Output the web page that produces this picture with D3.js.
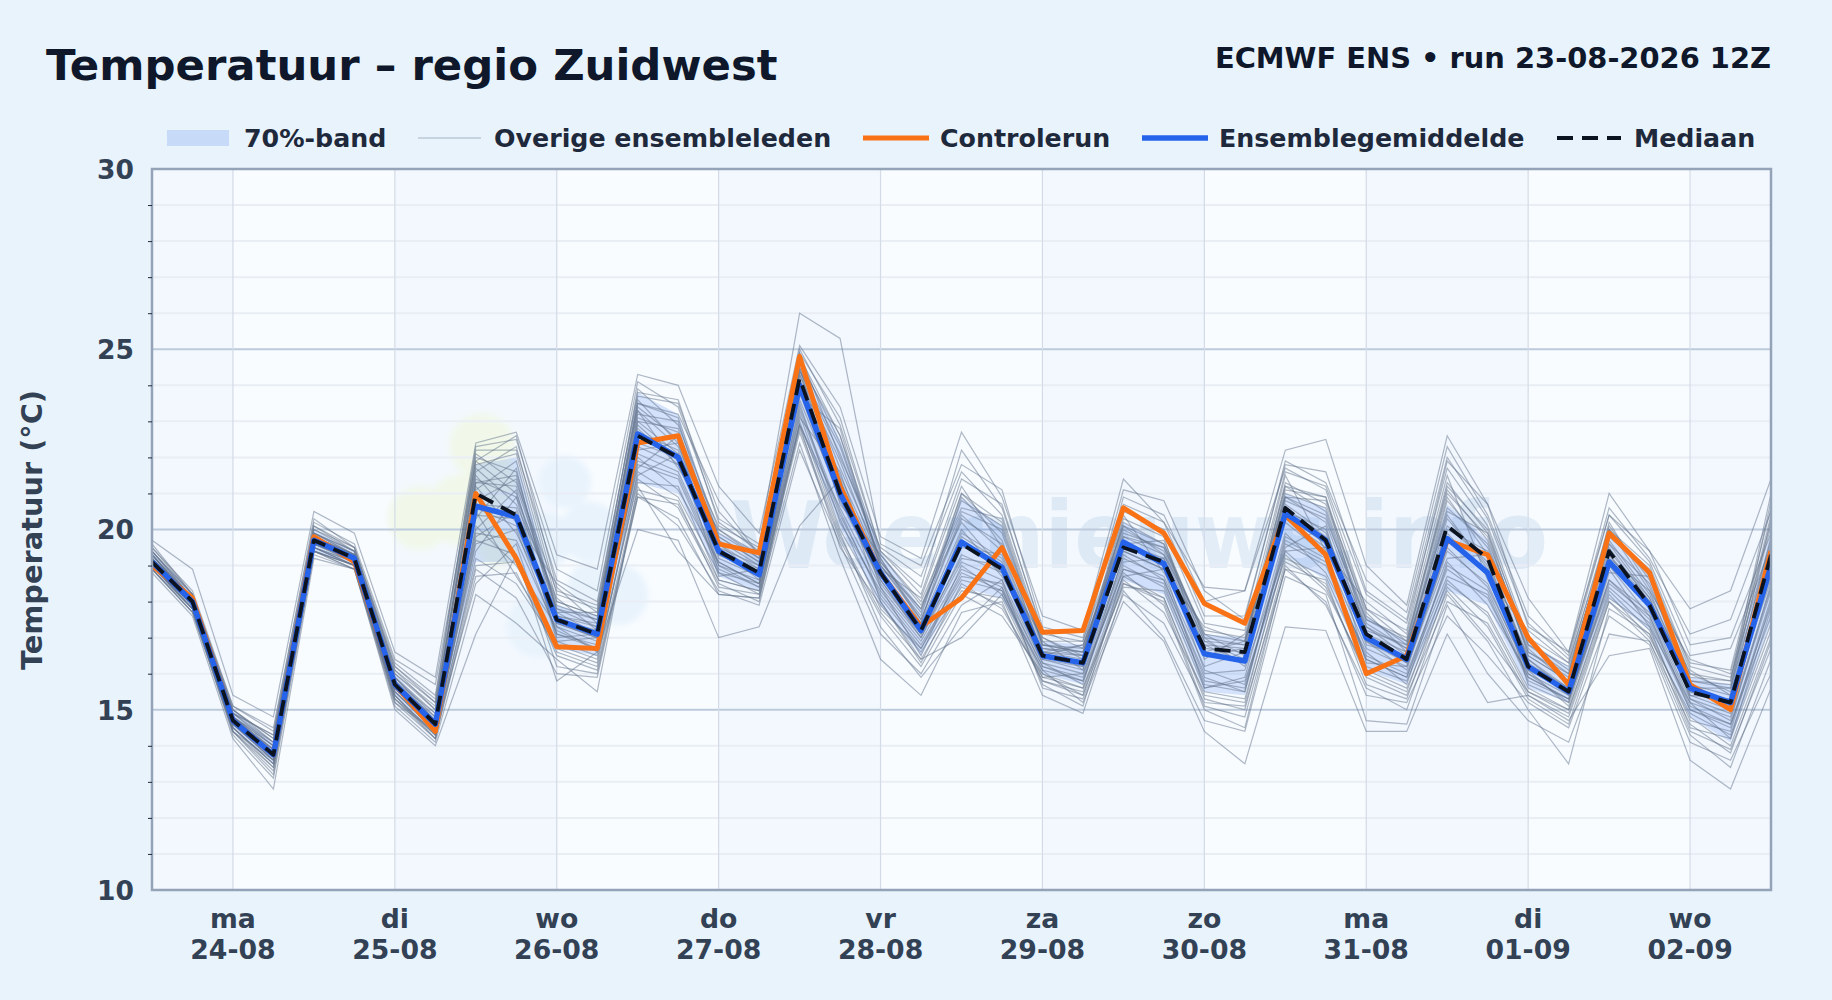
<!DOCTYPE html>
<meta charset="utf-8">
<script src="https://d3js.org/d3.v7.min.js"></script>

<style>
html, body { margin: 0; padding: 0; background: #e8f3fc; }
svg { display: block; font-family: "DejaVu Sans", sans-serif; font-weight: 700; }
.y-axis text { font-family: "DejaVu Sans", sans-serif; fill: #334155; font-size: 26.5px; font-weight: 700; }
.x-label { fill: #334155; font-size: 26.7px; font-weight: 700; }
.y-axis path { display: none; }
.y-axis line { stroke: #1e293b; }
.legend text { fill: #1e293b; font-size: 25.3px; }
</style>

<div id="chart"></div>

<script>
// Step index -> 6-hourly from 23-08 12Z, 41 steps
var dayNames = ["ma", "di", "wo", "do", "vr", "za", "zo", "ma", "di", "wo"];
var dayDates = ["24-08", "25-08", "26-08", "27-08", "28-08", "29-08", "30-08", "31-08", "01-09", "02-09"];
var dayStep = [2, 6, 10, 14, 18, 22, 26, 30, 34, 38];
var shadedDays = [[0, 2], [6, 10], [14, 18], [22, 26], [30, 34], [38, 40]];
var majorTicks = [10, 15, 20, 25, 30];
var minorTicks = [11, 12, 13, 14, 16, 17, 18, 19, 21, 22, 23, 24, 26, 27, 28, 29];

var median = [19.1,18.0,14.7,13.75,19.7,19.2,15.7,14.6,21.0,20.4,17.5,17.1,22.6,22.0,19.4,18.8,24.2,21.0,18.8,17.2,19.6,18.9,16.5,16.3,19.5,19.1,16.7,16.6,20.6,19.7,17.1,16.4,20.1,19.2,16.2,15.5,19.4,17.9,15.5,15.2,19.3];
var mean = [19.1,18.0,14.7,13.75,19.7,19.2,15.7,14.6,20.65,20.35,17.5,17.1,22.65,22.0,19.4,18.75,24.0,21.0,18.8,17.2,19.65,18.95,16.5,16.3,19.65,19.05,16.55,16.35,20.45,19.7,17.0,16.4,19.75,18.8,16.2,15.5,19.1,17.9,15.6,15.2,19.0];
var control = [19.0,18.1,14.7,13.75,19.8,19.1,15.7,14.4,21.0,19.2,16.75,16.7,22.4,22.6,19.6,19.35,24.8,21.2,18.8,17.3,18.1,19.5,17.15,17.2,20.6,19.9,17.95,17.4,20.4,19.3,16.0,16.5,19.7,19.3,17.0,15.7,19.9,18.8,15.7,15.0,19.4];
var bandLow = [18.9,17.8,14.5,13.5,19.4,19.0,15.4,14.3,19.1,19.1,16.7,16.5,21.3,21.0,18.7,18.3,22.9,20.1,17.9,16.5,18.4,18.1,16.0,15.7,18.6,18.2,15.5,15.4,19.3,18.6,16.1,15.7,18.3,17.9,15.6,15.2,18.1,17.2,14.8,14.1,17.5];
var bandHigh = [19.4,18.2,15.0,14.1,20.0,19.4,16.0,14.8,21.8,22.0,17.9,17.6,23.8,23.2,19.9,19.4,24.7,22.5,19.4,17.8,20.9,20.1,16.9,16.8,20.2,19.6,17.1,17.0,21.0,20.6,17.6,16.9,20.7,19.7,16.9,16.2,19.8,18.8,15.9,15.7,20.0];

// Outer lines are read off the picture; inside the bundle single lines can't be told apart, so those are estimates
var m01 = [19.7,18.9,15.4,14.8,20.5,19.9,16.6,15.9,22.4,22.7,19.3,18.9,24.3,24.0,21.2,19.9,25.1,23.4,19.8,19.2,22.7,20.9,17.6,17.2,21.4,20.2,18.4,18.3,22.2,22.5,19.0,17.9,22.6,20.7,18.1,16.6,21.0,19.4,17.8,18.3,21.4];
var m02 = [18.8,17.6,14.2,12.8,19.2,18.9,15.0,14.0,17.1,19.3,15.8,16.6,20.0,19.7,17.0,17.3,20.1,21.4,18.0,16.4,17.0,18.2,16.1,15.2,18.0,16.9,14.4,13.5,17.3,17.2,14.4,14.4,17.1,15.2,15.4,14.7,16.5,16.7,13.6,12.8,15.6];
var m03 = [19.3,18.0,14.9,14.3,20.1,19.5,16.2,15.3,22.3,22.5,18.9,18.3,24.1,23.4,20.3,19.6,26.0,25.3,19.6,19.0,21.8,21.1,17.3,17.0,21.1,20.8,18.3,17.5,21.9,21.3,18.6,17.7,22.3,20.4,17.6,16.5,20.6,19.2,17.1,17.5,20.5];
var m04 = [19.0,17.8,14.3,13.1,19.3,18.9,15.1,14.1,18.2,17.4,16.4,15.5,21.2,19.4,18.2,18.1,22.4,19.2,16.4,15.4,17.7,18.0,15.4,14.9,18.3,17.0,14.7,14.4,18.7,18.2,14.7,14.6,17.9,16.0,14.7,14.1,17.1,16.9,14.3,13.4,16.4];
var m05 = [19.5,18.3,15.1,14.5,20.2,19.6,16.4,15.7,21.9,22.6,18.4,17.4,23.5,23.2,20.8,19.3,24.9,23.1,19.4,18.4,22.2,20.6,17.2,16.7,20.9,20.4,18.0,18.3,21.7,21.1,17.8,17.2,21.9,20.7,17.3,16.6,20.4,19.4,16.8,17.0,19.9];
var m06 = [18.9,17.7,14.4,13.2,19.4,18.9,15.2,14.2,18.9,18.1,16.0,15.9,20.9,20.3,18.2,18.1,23.0,19.9,17.3,15.9,17.3,18.4,15.7,15.1,18.8,17.9,15.0,14.5,19.0,17.9,15.6,15.0,18.2,16.9,15.0,13.5,17.8,17.1,14.8,14.0,17.0];
var m07 = [19.2,18.1,14.8,13.9,19.8,19.3,15.9,14.7,21.3,21.2,17.9,17.5,23.3,22.3,19.7,19.0,24.4,22.3,19.1,17.7,20.8,20.1,16.8,16.6,20.0,19.4,16.9,16.8,21.2,20.5,17.4,16.7,20.6,19.6,16.6,15.9,19.6,18.5,15.8,15.7,20.1];
var m08 = [19.0,17.9,14.6,13.6,19.5,19.1,15.5,14.4,19.6,20.0,17.1,16.8,21.8,21.4,18.9,18.4,23.3,20.4,18.2,16.8,18.7,18.5,16.2,15.8,19.0,18.4,15.8,15.6,19.6,19.0,16.4,15.9,18.7,18.2,15.8,15.3,18.4,17.4,15.0,14.5,18.1];
var m09 = [19.4,18.2,15.0,14.2,20.0,19.4,16.1,15.0,22.0,21.6,17.7,17.7,23.9,22.9,20.0,19.2,23.7,22.8,18.9,18.1,21.2,19.5,16.9,16.1,20.3,19.8,16.4,17.1,20.9,20.8,17.8,16.9,21.3,19.9,16.9,16.1,19.9,18.9,16.1,15.4,18.7];
var m10 = [18.9,17.8,14.5,13.5,19.5,19.0,15.3,14.3,20.1,19.0,17.3,16.6,22.0,21.1,19.1,18.5,22.9,20.6,18.4,16.5,19.0,18.2,15.9,16.0,18.7,18.9,15.6,15.9,19.9,18.8,16.6,15.7,19.1,17.9,16.0,15.2,18.9,17.3,15.2,14.2,17.8];
var m11 = [19.3,18.0,14.8,14.0,19.9,19.4,15.8,14.9,21.7,20.7,18.1,17.2,23.0,22.8,19.5,18.6,24.5,21.7,19.2,17.5,20.3,19.6,16.6,16.8,19.8,19.5,17.1,16.5,20.9,20.2,17.2,16.8,20.4,18.9,16.5,15.8,19.2,18.3,15.6,15.6,19.6];
var m12 = [19.1,17.9,14.6,13.7,19.6,19.2,15.6,14.5,19.4,20.9,16.9,17.0,21.5,22.1,18.7,18.9,23.6,20.9,18.6,17.0,19.3,18.8,16.3,15.7,19.3,18.6,16.0,16.1,19.4,19.5,16.9,16.1,19.5,18.4,16.1,15.1,18.6,17.7,15.3,14.9,18.4];
var m13 = [19.6,18.2,15.1,14.4,20.3,19.5,16.3,15.4,22.2,22.2,18.6,18.0,23.7,23.5,20.5,19.3,24.9,22.0,19.5,18.7,21.6,20.4,17.0,16.5,20.5,20.0,17.4,17.2,21.6,21.2,18.2,17.4,21.7,20.1,17.0,16.3,20.1,18.6,16.3,16.1,20.6];
var m14 = [19.0,17.9,14.4,13.3,19.4,19.0,15.4,14.2,18.7,18.8,16.6,16.2,21.1,20.8,18.4,18.2,22.7,19.7,17.6,16.2,18.2,17.6,16.0,15.4,18.5,18.1,15.3,15.0,19.1,18.5,15.9,15.4,18.0,17.4,15.4,14.8,18.0,16.9,14.6,13.8,16.9];
var m15 = [19.2,18.0,14.7,13.8,19.7,19.2,15.7,14.7,20.8,21.4,17.6,17.3,22.8,21.8,19.6,18.9,24.1,21.4,18.7,17.4,20.0,18.7,16.7,16.5,19.6,19.2,16.6,16.9,20.7,19.9,17.3,16.5,20.0,19.4,16.3,15.6,19.5,18.0,15.7,15.0,18.9];
var m16 = [19.4,18.1,15.0,14.1,19.9,19.3,16.0,15.1,21.6,22.3,18.2,17.8,23.4,22.5,20.1,19.5,24.6,22.6,19.3,18.0,20.6,20.3,16.9,16.9,20.1,19.3,17.2,17.0,21.0,20.6,17.5,17.0,21.1,19.7,16.8,16.2,19.8,18.8,15.9,15.8,21.0];
var m17 = [18.9,17.7,14.5,13.4,19.4,18.9,15.3,14.2,19.2,18.5,16.8,16.4,21.4,20.6,18.5,18.0,22.9,19.5,17.9,16.6,18.4,17.9,15.8,15.5,18.6,17.7,15.5,15.3,19.3,18.3,16.1,15.6,18.3,17.0,15.5,15.0,18.2,17.0,14.9,14.3,17.4];
var m18 = [19.1,18.0,14.7,13.9,19.7,19.1,15.6,14.6,20.4,20.3,17.4,17.0,22.4,22.0,19.2,18.7,23.9,21.0,18.5,17.1,19.8,19.1,16.4,16.2,19.4,18.9,16.8,16.3,20.4,19.6,17.0,16.3,19.9,18.7,16.2,15.4,19.3,17.8,15.5,15.1,19.2];
var m19 = [19.3,18.1,14.9,14.0,19.8,19.3,15.9,14.8,21.4,20.9,18.0,17.6,23.1,22.7,19.8,19.1,24.3,21.9,19.0,17.6,21.0,19.9,16.7,16.6,20.2,19.6,17.0,16.8,21.3,20.7,17.7,16.6,20.8,19.5,16.7,15.7,20.2,18.4,16.0,15.5,20.3];
var m20 = [19.0,17.8,14.6,13.6,19.6,19.1,15.5,14.5,19.9,19.7,17.2,16.7,21.9,21.5,19.0,18.4,23.5,20.2,18.3,16.9,18.9,18.4,16.2,15.9,18.9,18.5,15.7,15.5,19.7,19.1,16.5,16.0,18.9,18.1,15.9,15.3,18.6,17.5,15.1,14.6,17.6];
var m21 = [19.2,18.0,14.8,13.8,19.7,19.2,15.8,14.7,21.2,19.9,17.6,17.4,22.9,21.9,19.3,18.8,24.0,21.2,18.8,17.3,19.5,19.3,16.6,16.4,19.7,19.0,16.5,16.7,20.5,20.0,16.8,16.5,20.3,19.0,16.4,15.5,19.4,18.1,15.4,15.3,18.6];
var m22 = [19.4,18.1,14.9,14.1,19.9,19.4,16.0,15.0,21.9,21.0,17.8,17.5,23.6,22.4,19.9,19.2,24.7,22.4,19.1,17.8,20.5,20.0,16.8,16.7,19.9,19.5,16.9,16.4,20.8,20.3,17.5,16.9,21.0,19.8,16.6,16.0,20.0,19.0,16.2,15.9,19.7];
var m23 = [19.0,17.9,14.5,13.5,19.5,19.0,15.4,14.3,20.5,18.7,16.9,16.5,21.3,21.2,18.6,18.3,22.9,20.3,17.8,16.7,18.6,18.3,16.0,15.6,18.4,18.3,15.6,15.8,19.2,18.7,16.2,15.8,18.5,17.7,15.6,15.0,18.3,17.2,14.7,14.4,18.0];
var m24 = [19.1,17.9,14.7,13.7,19.6,19.2,15.6,14.6,20.3,21.7,17.3,16.9,22.2,22.4,19.0,18.6,23.8,20.8,18.6,17.1,19.2,19.0,16.4,16.1,19.2,18.7,16.2,16.6,20.2,19.3,16.7,16.2,19.4,18.5,16.0,15.4,19.0,17.6,15.2,14.8,18.3];
var m25 = [19.3,18.1,14.8,14.0,19.8,19.3,15.7,14.8,21.1,21.9,17.7,17.1,23.2,23.0,19.5,19.0,24.4,22.1,19.2,17.4,20.9,19.7,16.5,16.8,19.6,19.7,17.0,16.2,21.1,20.9,17.1,16.6,20.5,19.9,16.5,15.8,19.7,18.2,15.8,15.6,20.8];
var m26 = [19.5,18.2,15.0,14.2,20.1,19.4,16.2,15.2,22.1,21.3,18.3,17.9,23.8,23.6,20.2,19.4,25.0,22.9,19.4,18.2,21.4,20.7,17.1,16.9,20.7,20.2,17.6,17.6,21.8,21.6,18.3,17.5,22.0,20.3,17.4,16.4,20.4,19.1,16.5,16.7,19.5];
var m27 = [18.9,17.7,14.4,13.4,19.4,19.0,15.2,14.4,18.5,19.6,16.2,16.0,21.0,20.1,18.3,17.9,22.2,19.6,17.1,16.0,17.9,18.6,15.6,15.3,18.2,17.4,15.2,15.1,18.9,18.0,15.4,15.2,17.6,16.5,15.2,14.5,17.6,16.8,14.1,13.6,16.0];
var m28 = [19.2,18.0,14.7,13.9,19.7,19.2,15.7,14.6,20.7,20.6,17.5,17.2,22.7,22.2,19.4,18.9,24.2,21.3,18.9,17.2,19.9,19.2,16.5,16.3,19.5,19.1,16.7,16.6,20.6,19.8,17.1,16.4,20.1,19.1,16.2,15.5,19.3,18.0,15.5,15.2,19.4];
var m29 = [19.1,17.9,14.6,13.8,19.6,19.1,15.6,14.5,20.0,21.1,17.0,17.1,21.7,22.6,18.8,18.5,23.1,21.6,18.4,17.0,19.1,18.6,16.3,16.0,19.1,19.2,16.1,15.7,19.5,20.1,16.3,16.2,19.2,19.3,15.7,15.2,18.8,18.7,15.3,14.7,18.5];
var m30 = [19.4,18.2,14.9,14.3,20.0,19.5,16.1,15.2,21.5,20.2,18.5,17.7,23.3,21.7,20.0,19.3,24.5,20.7,19.3,17.9,20.2,18.9,17.0,16.4,20.4,18.8,17.3,16.9,21.5,19.4,18.0,17.1,21.5,18.6,17.2,16.3,20.0,18.3,16.4,16.0,20.2];
var m31 = [19.0,17.8,14.4,13.6,19.5,19.0,15.4,14.3,19.7,19.3,16.7,16.3,21.6,20.9,18.8,18.2,23.2,20.0,18.0,16.3,18.5,17.8,15.9,15.6,18.7,18.1,15.4,15.2,19.4,18.4,16.0,15.5,18.6,17.6,15.5,14.9,18.1,17.3,14.5,14.2,17.2];
var m32 = [19.2,18.1,14.8,13.9,19.8,19.2,15.8,14.7,21.3,21.5,17.8,17.3,23.0,22.1,19.6,18.7,24.3,21.5,19.0,17.5,20.4,19.4,16.6,16.5,19.8,19.3,16.8,16.7,20.9,20.4,17.3,16.7,20.9,19.3,16.4,15.6,19.6,18.1,15.7,15.4,19.8];
var m33 = [19.3,18.0,14.8,14.1,19.9,19.3,15.9,14.9,21.8,22.1,18.0,17.6,23.5,23.1,19.8,19.1,24.8,22.6,19.0,17.8,21.0,20.2,16.8,16.6,20.1,19.6,17.1,16.9,21.2,20.9,17.6,16.8,21.2,20.0,16.8,16.0,20.0,18.7,16.0,15.8,20.4];
var m34 = [19.1,17.9,14.6,13.6,19.5,19.1,15.5,14.4,19.8,20.5,17.1,16.7,22.1,21.6,19.1,18.5,23.4,20.5,18.1,16.7,18.8,18.3,16.1,15.8,18.9,18.6,15.9,15.5,19.8,19.2,16.4,15.9,19.0,18.3,15.9,15.3,18.5,17.6,15.0,14.6,17.9];
var m35 = [19.2,18.0,14.7,13.8,19.6,19.2,15.7,14.6,20.6,20.1,17.4,17.0,22.3,21.8,19.3,18.8,24.1,20.9,18.7,17.2,19.7,18.8,16.5,16.2,19.4,18.9,16.6,16.4,20.3,19.5,16.9,16.3,19.8,18.8,16.1,15.5,19.1,17.9,15.4,15.0,18.8];
var m36 = [19.0,17.8,14.5,13.5,19.4,19.0,15.3,14.4,19.0,19.1,16.5,16.1,20.9,20.7,18.6,18.3,22.8,19.8,17.7,16.4,18.3,18.1,15.8,15.4,18.5,18.0,15.1,14.8,18.9,18.6,15.7,15.3,18.4,17.3,15.3,14.6,18.0,17.1,14.4,13.9,16.7];
var members = [m01,m02,m03,m04,m05,m06,m07,m08,m09,m10,m11,m12,m13,m14,m15,m16,m17,m18,m19,m20,m21,m22,m23,m24,m25,m26,m27,m28,m29,m30,m31,m32,m33,m34,m35,m36];

var margin = { top: 169, right: 61, bottom: 110, left: 152 },
    totalW = 1832, totalH = 1000,
    width = totalW - margin.left - margin.right,
    height = totalH - margin.top - margin.bottom;

var svg = d3.select("#chart").append("svg").attr("width", totalW).attr("height", totalH);

svg.append("text").attr("x", 46).attr("y", 80).attr("fill", "#0f172a").attr("font-size", 43.4)
   .text("Temperatuur – regio Zuidwest");
svg.append("text").attr("x", 1771).attr("y", 68).attr("text-anchor", "end").attr("fill", "#0f172a").attr("font-size", 28.9)
   .text("ECMWF ENS • run 23-08-2026 12Z");

var g = svg.append("g").attr("transform", "translate(" + margin.left + "," + margin.top + ")");

// Scales
var x = d3.scaleLinear().domain([0, 40]).range([0, width]);
var y = d3.scaleLinear().domain([10, 30]).range([height, 0]);

g.append("rect").attr("width", width).attr("height", height).attr("fill", "#f8fcff");

g.selectAll(".shade").data(shadedDays).enter().append("rect")
   .attr("x", function (d) { return x(d[0]); })
   .attr("width", function (d) { return x(d[1]) - x(d[0]); })
   .attr("height", height)
   .attr("fill", "#f3f8fe");

// Watermark, under the gridlines
var blur = svg.append("filter").attr("id", "soft");
blur.append("feGaussianBlur").attr("stdDeviation", 3);
var wm = g.append("g").attr("transform", "translate(" + (-margin.left) + "," + (-margin.top) + ")");
var wmGreen = [[482, 446, 33], [420, 518, 32], [462, 510, 36], [490, 480, 26], [498, 548, 20]];
var wmBlue = [[565, 482, 26], [590, 532, 30], [545, 540, 28], [618, 595, 30], [538, 626, 31], [590, 585, 22]];
wm.append("g").attr("filter", "url(#soft)").selectAll("circle").data(wmGreen).enter().append("circle")
   .attr("cx", function (d) { return d[0]; }).attr("cy", function (d) { return d[1]; }).attr("r", function (d) { return d[2]; })
   .attr("fill", "#f1f8ea");
wm.append("g").attr("filter", "url(#soft)").selectAll("circle").data(wmBlue).enter().append("circle")
   .attr("cx", function (d) { return d[0]; }).attr("cy", function (d) { return d[1]; }).attr("r", function (d) { return d[2]; })
   .attr("fill", "#e8f3fc");
wm.append("text").attr("x", 730).attr("y", 568).attr("textLength", 818).attr("lengthAdjust", "spacingAndGlyphs")
   .attr("font-size", 92).attr("fill", "#3b7ab8").attr("fill-opacity", 0.11)
   .text("Weernieuws.info");

// Gridlines
g.selectAll(".minor").data(minorTicks).enter().append("line")
   .attr("x2", width)
   .attr("y1", y).attr("y2", y)
   .attr("stroke", "#e9eef5").attr("stroke-width", 2);
g.selectAll(".major").data(majorTicks).enter().append("line")
   .attr("x2", width)
   .attr("y1", y).attr("y2", y)
   .attr("stroke", "#bccadb").attr("stroke-width", 2);
g.selectAll(".day").data(dayStep).enter().append("line")
   .attr("x1", x).attr("x2", x)
   .attr("y2", height)
   .attr("stroke", "#d3dbe7").attr("stroke-width", 1.2);

var plot = g.append("g");
svg.append("clipPath").attr("id", "plotclip").append("rect").attr("width", width).attr("height", height);
plot.attr("clip-path", "url(#plotclip)");

var line = d3.line().x(function (d, i) { return x(i); }).y(function (d) { return y(d); });
var area = d3.area().x(function (d, i) { return x(i); })
   .y0(function (d) { return y(d[0]); }).y1(function (d) { return y(d[1]); });

plot.append("path").datum(d3.zip(bandLow, bandHigh)).attr("d", area).attr("fill", "#2563eb").attr("fill-opacity", 0.17);

plot.selectAll(".member").data(members).enter().append("path")
   .attr("d", line)
   .attr("fill", "none")
   .attr("stroke", "#64748b").attr("stroke-opacity", 0.5).attr("stroke-width", 1.2);

function drawLine(values, color, w, dash) {
  plot.append("path").datum(values).attr("d", line)
     .attr("fill", "none").attr("stroke", color).attr("stroke-width", w)
     .attr("stroke-linejoin", "round").attr("stroke-dasharray", dash || null);
}
drawLine(control, "#f97316", 5);
drawLine(mean, "#2563eb", 5.5);
drawLine(median, "#0b1220", 3.8, "16 9");

// Frame and axes
g.append("rect").attr("width", width).attr("height", height).attr("fill", "none").attr("stroke", "#94a3b8").attr("stroke-width", 2.5);

g.append("g").attr("class", "y-axis").attr("transform", "translate(0,1)")
   .call(d3.axisLeft(y).tickValues(majorTicks).tickSize(0).tickPadding(18));
g.append("g").attr("class", "y-axis")
   .call(d3.axisLeft(y).tickValues(minorTicks).tickSize(4).tickFormat(""));

var xl = g.selectAll(".x-label").data(dayStep).enter().append("text")
   .attr("class", "x-label").attr("text-anchor", "middle")
   .attr("transform", function (d) { return "translate(" + x(d) + ",0)"; });
xl.append("tspan").attr("x", 0).attr("y", height + 38).text(function (d, i) { return dayNames[i]; });
xl.append("tspan").attr("x", 0).attr("y", height + 69).text(function (d, i) { return dayDates[i]; });

svg.append("text").attr("transform", "translate(42,530) rotate(-90)").attr("text-anchor", "middle")
   .attr("fill", "#334155").attr("font-size", 28.8).text("Temperatuur (°C)");

// Legend
var legend = svg.append("g").attr("class", "legend");
legend.append("rect").attr("x", 167).attr("y", 130).attr("width", 62).attr("height", 16).attr("fill", "#2563eb").attr("fill-opacity", 0.17);
legend.append("line").attr("x1", 418).attr("x2", 481).attr("y1", 138).attr("y2", 138).attr("stroke", "#64748b").attr("stroke-opacity", 0.5).attr("stroke-width", 1.2);
legend.append("line").attr("x1", 863).attr("x2", 929).attr("y1", 138).attr("y2", 138).attr("stroke", "#f97316").attr("stroke-width", 5);
legend.append("line").attr("x1", 1142).attr("x2", 1208).attr("y1", 138).attr("y2", 138).attr("stroke", "#2563eb").attr("stroke-width", 5.5);
legend.append("line").attr("x1", 1557).attr("x2", 1621).attr("y1", 138).attr("y2", 138).attr("stroke", "#0b1220").attr("stroke-width", 3.8).attr("stroke-dasharray", "16 9");
var legendX = [244, 494, 940, 1219, 1634];
var legendNames = ["70%-band", "Overige ensembleleden", "Controlerun", "Ensemblegemiddelde", "Mediaan"];
legend.selectAll("text").data(legendNames).enter().append("text")
   .attr("x", function (d, i) { return legendX[i]; }).attr("y", 147)
   .text(function (d) { return d; });
</script>
